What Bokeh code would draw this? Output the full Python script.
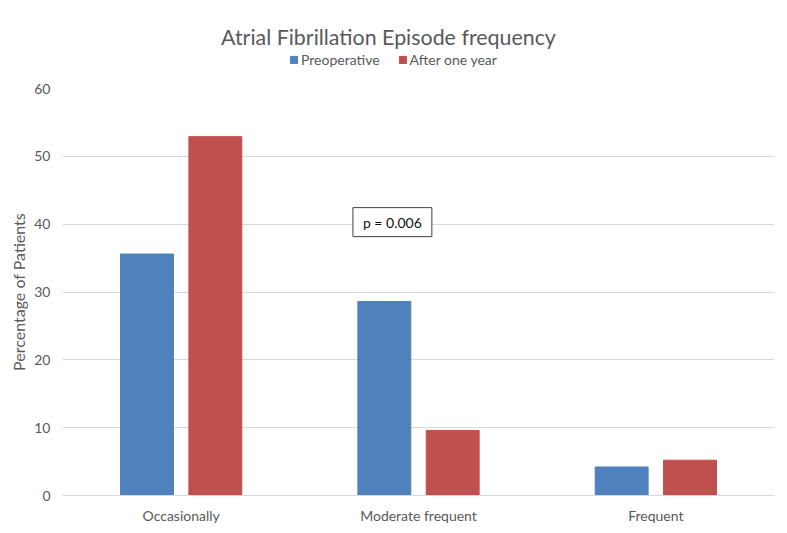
from bokeh.plotting import figure
from bokeh.models import ColumnDataSource, Legend, LegendItem, Label, FactorRange, Range1d
from bokeh.layouts import column
from bokeh.transform import dodge
from bokeh.embed import file_html
from bokeh.resources import INLINE

categories = ["Occasionally", "Moderate frequent", "Frequent"]
preoperative = [35.6, 28.6, 4.2]
after_one_year = [52.9, 9.6, 5.2]
y_ticks = [0, 10, 20, 30, 40, 50, 60]
series_names = ["Preoperative", "After one year"]
title_text = "Atrial Fibrillation Episode frequency"

FONT = "Lato"
GREY = "#595959"
BLUE = "#4F81BD"
RED = "#C0504D"
W = 787
BL, BR = 62, 13
NAN = float("nan")

# ---- header figure: title + legend ----
head = figure(width=W, height=80, x_range=Range1d(0, W - BL - BR), y_range=Range1d(0, 80),
              output_backend="svg", toolbar_location=None,
              min_border_left=BL, min_border_right=BR, min_border_top=0, min_border_bottom=0,
              x_axis_location=None, y_axis_location=None)
head.outline_line_color = None
head.xgrid.grid_line_color = None
head.ygrid.grid_line_color = None
head.add_layout(Label(x=326, y=44, text=title_text, text_align="center",
                      text_baseline="middle", text_font=FONT, text_font_size="21.4px",
                      text_color=GREY))
d1 = head.vbar(x=[NAN], top=[NAN], width=1, fill_color=BLUE, line_color=BLUE)
d2 = head.vbar(x=[NAN], top=[NAN], width=1, fill_color=RED, line_color=RED)
legend = Legend(items=[LegendItem(label=series_names[0], renderers=[d1]),
                       LegendItem(label=series_names[1], renderers=[d2])],
                orientation="horizontal", location=(227, 12),
                glyph_width=9, glyph_height=9, label_text_font=FONT,
                label_text_font_size="14px", label_text_color=GREY,
                border_line_color=None, background_fill_alpha=0,
                spacing=18, padding=0, margin=0, label_standoff=3)
head.add_layout(legend)

# ---- main chart ----
src = ColumnDataSource(data=dict(cat=categories, pre=preoperative, post=after_one_year))

p = figure(x_range=FactorRange(*categories), y_range=Range1d(0, 60),
           width=W, height=453, output_backend="svg", toolbar_location=None,
           min_border_left=BL, min_border_right=BR, min_border_bottom=38, min_border_top=8)

p.vbar(x=dodge("cat", -0.144, range=p.x_range), top="pre", width=0.223, source=src,
       fill_color=BLUE, line_color=BLUE)
p.vbar(x=dodge("cat", 0.144, range=p.x_range), top="post", width=0.223, source=src,
       fill_color=RED, line_color=RED)

p.outline_line_color = None
p.xgrid.grid_line_color = None
p.ygrid.grid_line_color = "#D9D9D9"
p.ygrid.ticker = y_ticks
p.yaxis.ticker = y_ticks
p.yaxis.axis_line_color = None
p.yaxis.major_tick_line_color = None
p.yaxis.minor_tick_line_color = None
p.yaxis.major_tick_out = 0
p.yaxis.major_tick_in = 0
p.yaxis.major_label_text_font = FONT
p.yaxis.major_label_text_font_size = "14px"
p.yaxis.major_label_text_color = GREY
p.yaxis.major_label_standoff = 12
p.yaxis.axis_label = "Percentage of Patients"
p.yaxis.axis_label_text_font = FONT
p.yaxis.axis_label_text_font_size = "16px"
p.yaxis.axis_label_text_font_style = "normal"
p.yaxis.axis_label_text_color = GREY
p.yaxis.axis_label_standoff = 3

p.xaxis.axis_label = None
p.xaxis.axis_line_color = "#D9D9D9"
p.xaxis.major_tick_line_color = None
p.xaxis.minor_tick_line_color = None
p.xaxis.major_tick_out = 0
p.xaxis.major_tick_in = 0
p.xaxis.major_label_text_font = FONT
p.xaxis.major_label_text_font_size = "14px"
p.xaxis.major_label_text_color = GREY
p.xaxis.major_label_standoff = 11

p.add_layout(Label(x=1.39, y=40.3, text="p = 0.006", text_align="center",
                   text_baseline="middle", text_font=FONT, text_font_size="14px",
                   text_color="#111111", border_line_color="#404040",
                   background_fill_color="white", padding=(10, 6)))

layout = column(head, p, spacing=0)
open("out.html", "w").write(file_html(layout, INLINE))
